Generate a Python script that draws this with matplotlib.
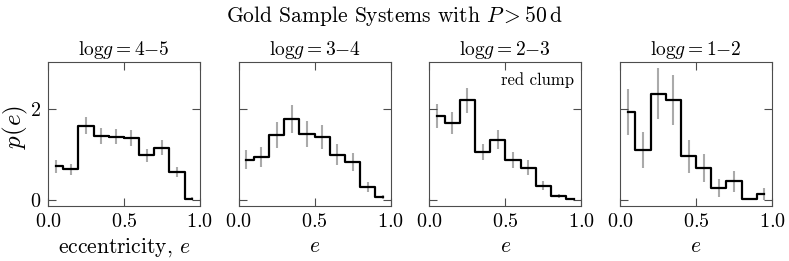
import numpy as np
import matplotlib
matplotlib.use("Agg")
import matplotlib.pyplot as plt

plt.rcParams['font.family'] = 'serif'
plt.rcParams['font.serif'] = ['cmr10']
plt.rcParams['mathtext.fontset'] = 'cm'
plt.rcParams['axes.formatter.use_mathtext'] = True

# bin centres in eccentricity
ecc = [0.05, 0.15, 0.25, 0.35, 0.45, 0.55, 0.65, 0.75, 0.85, 0.95]

titles = [r'$\log\!g = 4{-}5$', r'$\log\!g = 3{-}4$',
          r'$\log\!g = 2{-}3$', r'$\log\!g = 1{-}2$']

pe_45 = [0.74, 0.68, 1.63, 1.41, 1.39, 1.36, 0.98, 1.15, 0.61, 0.03]
err_45 = [0.14, 0.12, 0.19, 0.17, 0.17, 0.18, 0.14, 0.16, 0.11, 0.03]

pe_34 = [0.89, 0.94, 1.43, 1.78, 1.45, 1.38, 0.99, 0.83, 0.28, 0.07]
err_34 = [0.21, 0.22, 0.28, 0.31, 0.28, 0.26, 0.23, 0.20, 0.11, 0.05]

pe_23 = [1.84, 1.69, 2.19, 1.05, 1.32, 0.88, 0.71, 0.31, 0.09, 0.02]
err_23 = [0.26, 0.24, 0.27, 0.18, 0.21, 0.17, 0.17, 0.10, 0.04, 0.02]

pe_12 = [1.93, 1.10, 2.34, 2.19, 0.96, 0.70, 0.27, 0.41, 0.02, 0.14]
err_12 = [0.51, 0.39, 0.56, 0.55, 0.36, 0.31, 0.20, 0.23, 0.0, 0.13]

values = [pe_45, pe_34, pe_23, pe_12]
errors = [err_45, err_34, err_23, err_12]

fig, axes = plt.subplots(1, 4, figsize=(7.89, 2.61), dpi=100, sharey=True)
fig.subplots_adjust(left=0.0608, right=0.9785, bottom=0.211, top=0.762, wspace=0.2566)

for i, ax in enumerate(axes):
    ax.errorbar(ecc, values[i], yerr=errors[i], fmt='none', ecolor='#aaaaaa',
                elinewidth=1.5, capsize=0, zorder=1)
    ax.plot(ecc, values[i], drawstyle='steps-mid', color='black', lw=1.6, zorder=2)
    ax.set_xlim(0, 1)
    ax.set_ylim(-0.13, 3.03)
    ax.set_xticks([0.0, 0.5, 1.0])
    ax.set_yticks([0, 2])
    ax.tick_params(direction='in', top=True, right=True, length=5.5, width=0.8,
                   color='0.3', labelsize=14.5, pad=5)
    for sp in ax.spines.values():
        sp.set_color('0.3')
        sp.set_linewidth(0.8)
    ax.set_title(titles[i], fontsize=14, pad=5)
    if i == 0:
        ax.set_xlabel(r'eccentricity, $e$', fontsize=15.5)
        ax.set_ylabel(r'$p(e)$', fontsize=18)
        ax.yaxis.set_label_coords(-0.12, 0.55)
    else:
        ax.set_xlabel(r'$e$', fontsize=15.5)

axes[2].text(0.95, 0.93, 'red clump', transform=axes[2].transAxes,
             ha='right', va='top', fontsize=12)

fig.suptitle(r'Gold Sample Systems with $P > 50\,\mathrm{d}$', fontsize=15.5, y=0.985)

fig.savefig('out.png', dpi=100)
